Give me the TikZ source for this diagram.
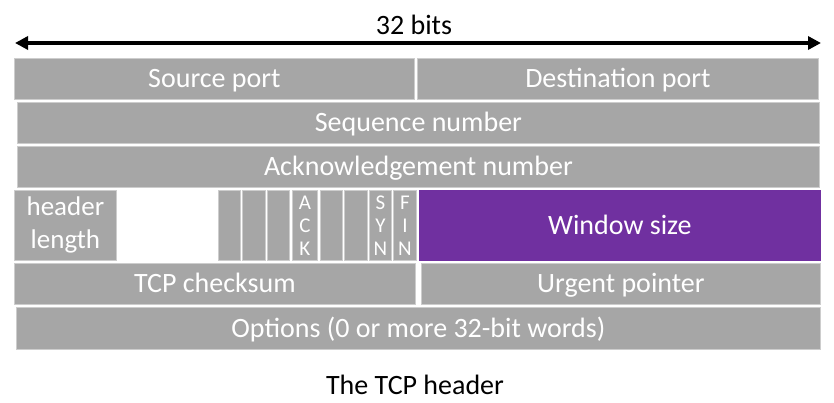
\documentclass[tikz,border=0pt]{standalone}
\usepackage{fontspec}
\setmainfont{Carlito}
\usetikzlibrary{arrows.meta}
\definecolor{fgray}{RGB}{166,166,166}
\definecolor{fborder}{RGB}{205,205,205}
\definecolor{fpurple}{RGB}{112,48,160}
\tikzset{
  field/.style={fill=fgray, draw=fborder, line width=0.8pt, text=white, inner sep=0pt, anchor=north west,
    font=\fontsize{28}{30}\selectfont, text height=22pt, text depth=4pt},
  multiline/.style={text height=, text depth=},
  flagbox/.style={fill=fgray, draw=fborder, line width=0.8pt, text=white, inner sep=0pt, anchor=north west,
    minimum width=#1, minimum height=70pt, align=center, font=\fontsize{21}{23}\selectfont},
  caption/.style={text=black, font=\fontsize{28}{30}\selectfont, inner sep=0pt},
  widtharrow/.style={line width=3.5pt, {Triangle[length=13pt,width=13pt]}-{Triangle[length=13pt,width=13pt]}}
}
\begin{document}
\begin{tikzpicture}[x=1pt,y=-1pt]
\useasboundingbox (0,0) rectangle (834,403);
% width arrow
\coordinate (la) at (15,43);
\coordinate (ra) at (821,43);
\draw[widtharrow] (la) -- (ra);
\node[caption] (bits) at (414,25) {32 bits};
% row 1
\node[field, minimum width=400pt, minimum height=41pt] (src) at (14,58) {Source port};
\node[field, minimum width=401pt, minimum height=41pt] (dst) at (417,58) {Destination port};
% row 2
\node[field, minimum width=802pt, minimum height=41pt] (seq) at (17,102) {Sequence number};
% row 3
\node[field, minimum width=802pt, minimum height=41pt] (ackn) at (17,146) {Acknowledgement number};
% row 4
\node[field, multiline, minimum width=102pt, minimum height=70pt, align=center, font=\fontsize{27}{33}\selectfont] (hlen) at (14,190) {header\\length};
\node[flagbox=22pt] (f1) at (218,190) {};
\node[flagbox=23pt] (f2) at (242,190) {};
\node[flagbox=22pt] (f3) at (267,190) {};
\node[flagbox=25pt] (fack) at (292,190) {A\\C\\K};
\node[flagbox=22pt] (f5) at (320,190) {};
\node[flagbox=23pt] (f6) at (344,190) {};
\node[flagbox=22pt] (fsyn) at (369,190) {S\\Y\\N};
\node[flagbox=23pt] (ffin) at (393,190) {F\\I\\N};
\node[field, fill=fpurple, draw=fpurple, minimum width=401pt, minimum height=70pt] (win) at (419,190) {Window size};
% row 5
\node[field, minimum width=401pt, minimum height=41pt] (csum) at (14,263) {TCP checksum};
\node[field, minimum width=399pt, minimum height=41pt] (urg) at (421,263) {Urgent pointer};
% row 6
\node[field, minimum width=804pt, minimum height=42pt] (opt) at (16,307) {Options (0 or more 32-bit words)};
% caption
\node[caption] (title) at (415,385) {The TCP header};
\end{tikzpicture}
\end{document}
